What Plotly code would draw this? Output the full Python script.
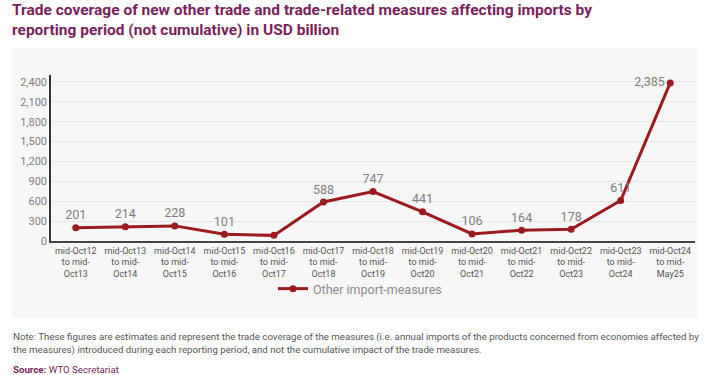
import plotly.graph_objects as go

categories = ["mid-Oct12<br>to mid-<br>Oct13", "mid-Oct13<br>to mid-<br>Oct14", "mid-Oct14<br>to mid-<br>Oct15",
              "mid-Oct15<br>to mid-<br>Oct16", "mid-Oct16<br>to mid-<br>Oct17", "mid-Oct17<br>to mid-<br>Oct18",
              "mid-Oct18<br>to mid-<br>Oct19", "mid-Oct19<br>to mid-<br>Oct20", "mid-Oct20<br>to mid-<br>Oct21",
              "mid-Oct21<br>to mid-<br>Oct22", "mid-Oct22<br>to mid-<br>Oct23", "mid-Oct23<br>to mid-<br>Oct24",
              "mid-Oct24<br>to mid-<br>May25"]
values = [201, 214, 228, 101, 85, 588, 747, 441, 106, 164, 178, 611, 2385]
labels = ["201", "214", "228", "101", "", "588", "747", "441", "106", "164", "178", "611", "2,385"]
label_pos = ["top center"] * 12 + ["middle left"]
y_ticks = [0, 300, 600, 900, 1200, 1500, 1800, 2100, 2400]
title_text = ("Trade coverage of new other trade and trade-related measures affecting imports by<br>"
              "reporting period (not cumulative) in USD billion")

W, H = 707, 375
# plot area in pixel coordinates
PL, PR, PT, PB = 51, 695, 75, 241
ml, mr, mt, mb = PL, W - PR, PT, H - PB
pw, ph = W - ml - mr, H - mt - mb

def px_x(p):
    return (p - PL) / pw

def px_y(p):
    return (PB - p) / ph

purple = "#7a1f5e"
red = "#9b1b1f"
gray = "#7f7f7f"
font = "Roboto"

fig = go.Figure()
fig.add_trace(go.Scatter(
    x=categories, y=values, mode="lines+markers+text",
    name="Other import-measures",
    line=dict(color=red, width=3),
    marker=dict(color=red, size=7),
    text=labels, textposition=label_pos,
    textfont=dict(family=font, size=12.5, color=gray),
    cliponaxis=False,
))

fig.add_shape(type="rect", xref="paper", yref="paper",
              x0=px_x(12), x1=px_x(697), y0=px_y(318), y1=px_y(48),
              fillcolor="#f7f7f7", line=dict(width=0), layer="below")

fig.add_annotation(xref="paper", yref="paper", x=px_x(11), y=px_y(0),
                   xanchor="left", yanchor="top", align="left", showarrow=False,
                   text="<b>" + title_text + "</b>", borderpad=0,
                   font=dict(family=font, size=15.5, color=purple))
fig.add_annotation(xref="paper", yref="paper", x=px_x(11), y=px_y(329),
                   xanchor="left", yanchor="top", align="left", showarrow=False,
                   text="Note: These figures are estimates and represent the trade coverage of the measures (i.e. annual imports of the products concerned from economies affected by<br>the measures) introduced during each reporting period, and not the cumulative impact of the trade measures.",
                   font=dict(family=font, size=9.7, color="#555555"))
fig.add_annotation(xref="paper", yref="paper", x=px_x(11), y=px_y(362),
                   xanchor="left", yanchor="top", align="left", showarrow=False,
                   text="<b>Source:</b> WTO Secretariat",
                   font=dict(family=font, size=9.7, color=purple))

fig.update_layout(
    width=W, height=H,
    margin=dict(l=ml, r=mr, t=mt, b=mb, autoexpand=False),
    paper_bgcolor="white", plot_bgcolor="rgba(0,0,0,0)",
    showlegend=True,
    legend=dict(orientation="h", x=px_x(360), xanchor="center", y=px_y(274), yanchor="top",
                font=dict(family=font, size=12.5, color="#8a8a8a"), bgcolor="rgba(0,0,0,0)"),
    xaxis=dict(range=[-0.5, 12.5], showgrid=False, showline=True, linecolor="#444444", linewidth=1.5,
               tickfont=dict(family=font, size=9, color="#555555"), ticks="", automargin=False),
    yaxis=dict(range=[0, 2505], tickvals=y_ticks, tickformat=",", showgrid=True,
               gridcolor="#e6e6e6", showline=True, linecolor="#333333", linewidth=1.5,
               zeroline=False, tickfont=dict(family=font, size=11, color=gray), ticks="",
               automargin=False),
)

fig.write_html("out.html", config={"displayModeBar": False},
               post_script="document.body.style.margin='0';document.body.style.padding='0';")
